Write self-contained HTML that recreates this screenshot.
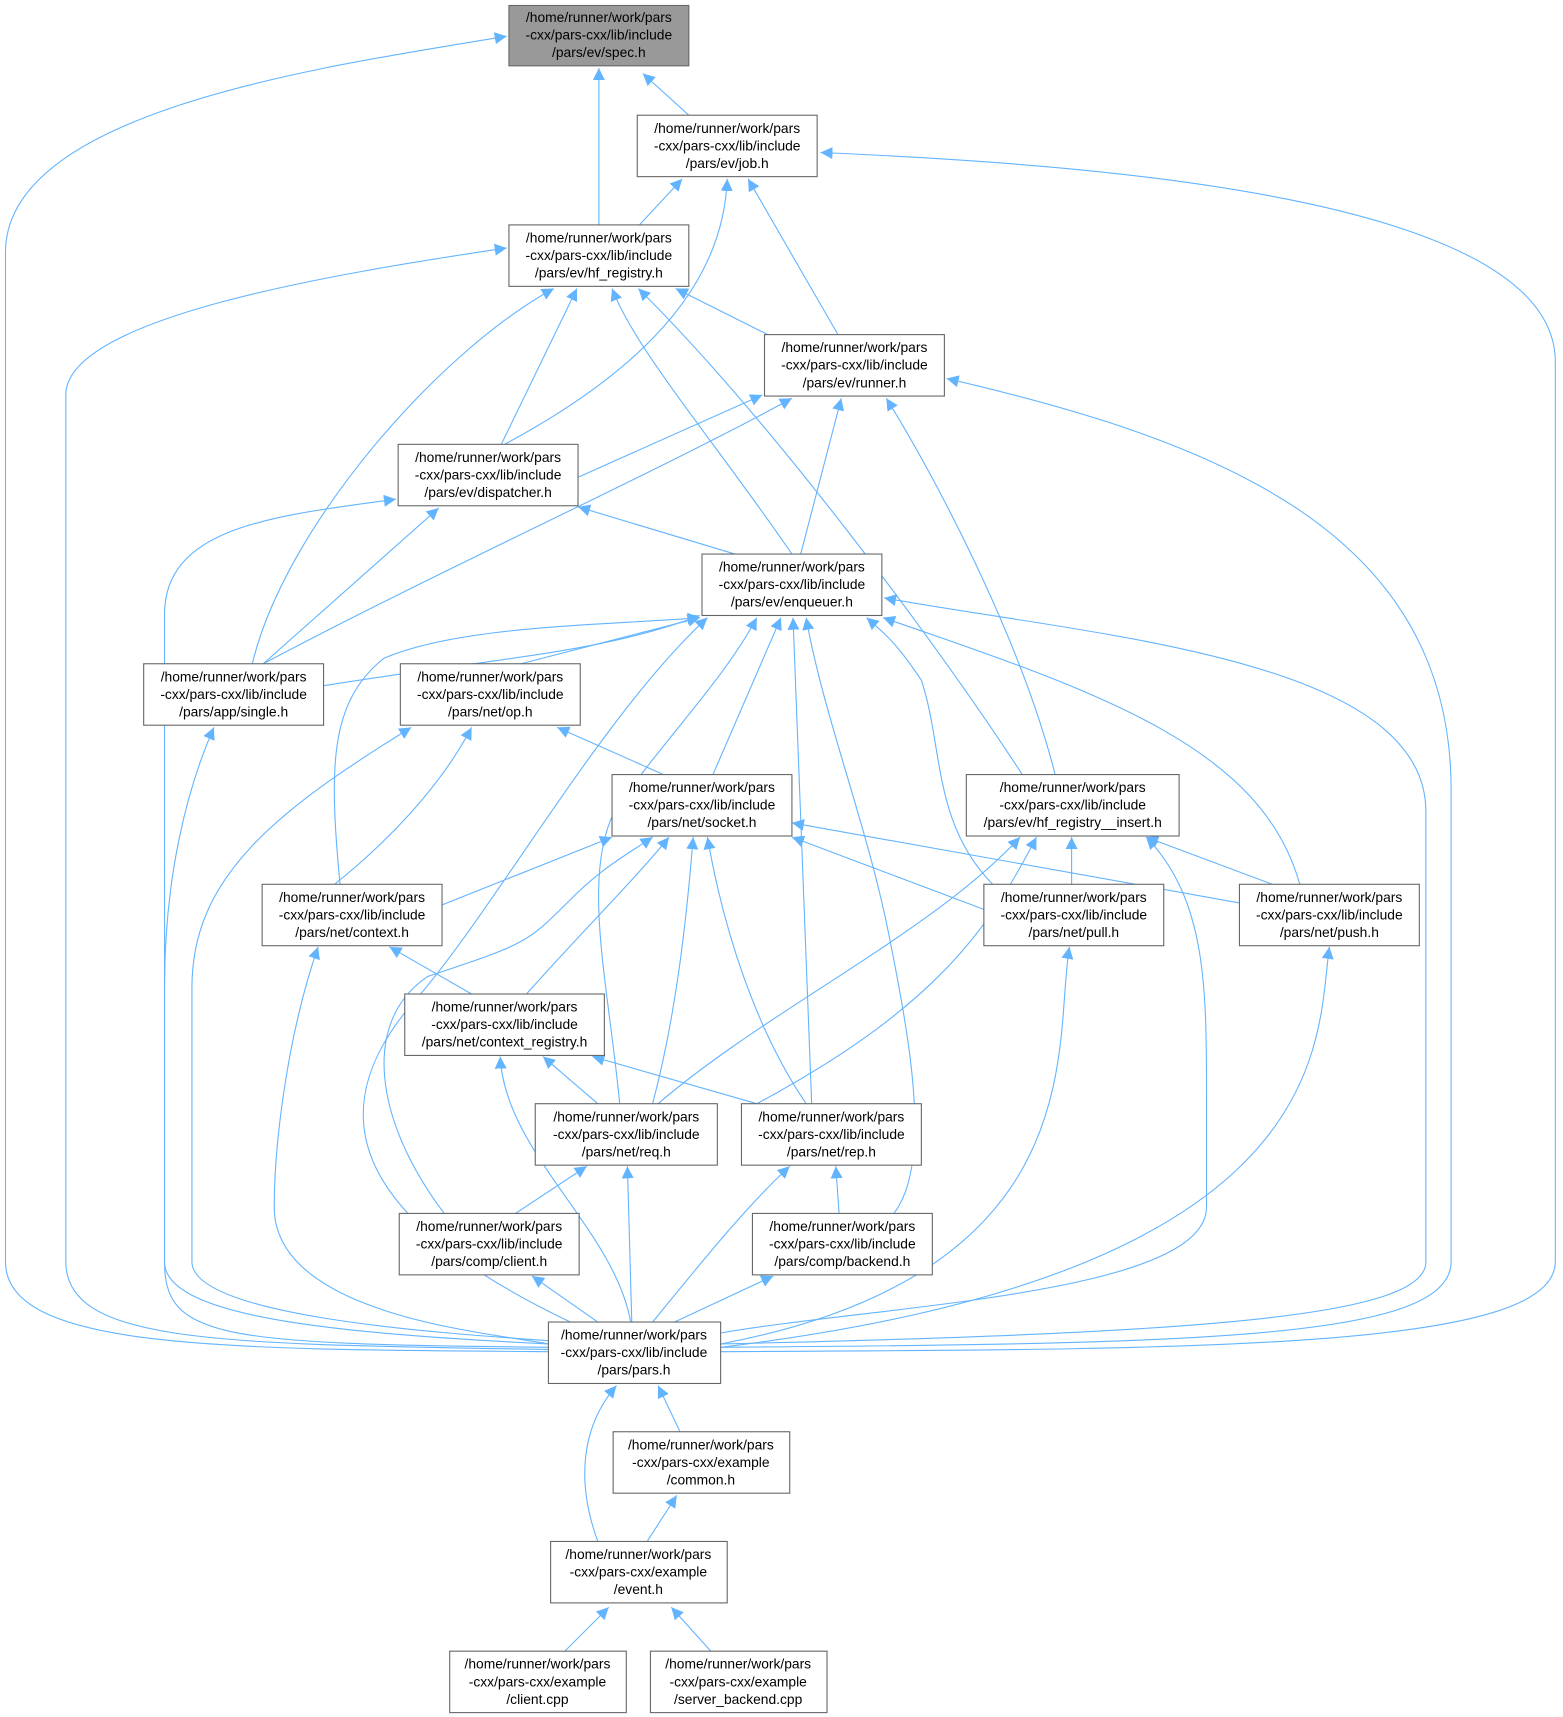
<!DOCTYPE html>
<html><head><meta charset="utf-8"><style>
html,body{margin:0;padding:0;background:#fff;}
svg{display:block;}
text{font-family:"Liberation Sans",sans-serif;font-size:12.6px;fill:#000;text-anchor:middle;}
.e{fill:none;stroke:#63b4ff;stroke-width:1;}
rect{fill:#fff;stroke:#666;stroke-width:1;}
</style></head><body>
<svg width="1563" height="1717" viewBox="0 0 1425 1565" preserveAspectRatio="none" xmlns="http://www.w3.org/2000/svg">
<defs><marker id="a" viewBox="0 0 10 10" refX="10" refY="5" markerWidth="11" markerHeight="11" markerUnits="userSpaceOnUse" orient="auto"><path d="M0,0 L10,5 L0,10 z" fill="#63b4ff"/></marker></defs>
<g class="e" marker-end="url(#a)">
<path d="M500,1232 C200,1230 5,1230 5,1150 L5,230 C5,100 300,60 462,33"/>
<path d="M546,205 L546,62"/>
<path d="M628,105 L586,67"/>
<path d="M657,1232 C1100,1230 1418,1230 1418,1150 L1418,330 C1418,180 1000,150 748,139"/>
<path d="M583,205 L622,163"/>
<path d="M460,405 C600,330 660,250 663,163"/>
<path d="M764,305 L682,163"/>
<path d="M500,1230 C200,1225 60,1225 60,1150 L60,360 C60,290 300,250 462,226"/>
<path d="M700,305 L616,263"/>
<path d="M457,405 L526,263"/>
<path d="M230,605 C260,480 400,320 505,263"/>
<path d="M722,505 C650,400 580,320 558,263"/>
<path d="M932,706 C850,580 700,380 582,263"/>
<path d="M527,435 L695,360"/>
<path d="M240,605 C400,520 600,430 722,363"/>
<path d="M730,505 L767,363"/>
<path d="M962,706 C930,580 850,430 808,363"/>
<path d="M657,1228 C1100,1225 1323,1220 1323,1150 L1323,720 C1323,480 1100,400 863,345"/>
<path d="M500,1228 C200,1225 150,1220 150,1150 L150,560 C150,480 250,470 361,455"/>
<path d="M240,605 L400,463"/>
<path d="M670,505 L527,462"/>
<path d="M295,625 C450,600 550,595 638,561"/>
<path d="M475,605 L638,563"/>
<path d="M310,806 C300,700 300,640 350,600 C420,570 550,570 638,563"/>
<path d="M520,1205 C300,1100 300,1000 380,910 C450,830 550,650 645,563"/>
<path d="M565,1006 C555,900 530,800 560,740 C600,680 660,620 690,563"/>
<path d="M650,706 L712,563"/>
<path d="M740,1006 L723,563"/>
<path d="M815,1106 C850,1060 830,950 810,850 C790,750 750,650 735,563"/>
<path d="M905,806 C850,750 860,680 840,620 C820,590 810,580 790,563"/>
<path d="M1185,806 C1150,680 1000,630 805,563"/>
<path d="M657,1225 C1100,1215 1300,1200 1300,1150 L1300,740 C1300,600 1000,580 806,545"/>
<path d="M500,1222 C400,1215 175,1200 175,1150 L175,900 C175,800 250,740 375,663"/>
<path d="M305,806 C350,770 400,720 430,663"/>
<path d="M605,706 L508,663"/>
<path d="M500,1225 C300,1215 150,1200 150,1150 L150,900 C150,800 170,720 195,663"/>
<path d="M400,826 L558,763"/>
<path d="M480,906 C530,850 580,800 610,763"/>
<path d="M595,1006 C615,930 625,850 632,763"/>
<path d="M735,1006 C690,940 660,850 645,763"/>
<path d="M405,1106 C340,1020 330,930 390,890 C480,860 480,860 520,820 C550,790 570,780 595,763"/>
<path d="M900,830 L722,763"/>
<path d="M1130,823 L722,750"/>
<path d="M600,1006 C700,920 850,850 930,763"/>
<path d="M690,1006 C850,920 900,850 945,763"/>
<path d="M977,806 L977,763"/>
<path d="M1160,806 L1045,763"/>
<path d="M657,1215 C800,1190 1100,1180 1100,1100 L1100,1000 C1100,900 1100,820 1045,763"/>
<path d="M500,1225 C450,1215 250,1200 250,1100 C250,1050 260,950 290,863"/>
<path d="M430,906 L355,863"/>
<path d="M545,1006 L495,963"/>
<path d="M690,1006 L540,963"/>
<path d="M575,1205 C560,1120 460,1050 456,963"/>
<path d="M470,1106 L535,1063"/>
<path d="M576,1205 L572,1063"/>
<path d="M595,1205 C640,1150 680,1100 720,1063"/>
<path d="M765,1106 L762,1063"/>
<path d="M657,1225 C1000,1160 960,950 975,863"/>
<path d="M657,1228 C1220,1160 1200,950 1212,863"/>
<path d="M545,1205 L485,1163"/>
<path d="M615,1205 L705,1163"/>
<path d="M620,1305 L600,1263"/>
<path d="M545,1405 C525,1350 530,1300 562,1263"/>
<path d="M590,1405 L617,1363"/>
<path d="M515,1505 L555,1465"/>
<path d="M648,1505 L612,1465"/>
</g>
<g>
<rect x="464" y="5" width="164" height="55" style="fill:#999"/>
<text x="546" y="20">/home/runner/work/pars</text><text x="546" y="36">-cxx/pars-cxx/lib/include</text><text x="546" y="52">/pars/ev/spec.h</text>
<rect x="581" y="105" width="164" height="56"/>
<text x="663" y="121">/home/runner/work/pars</text><text x="663" y="137">-cxx/pars-cxx/lib/include</text><text x="663" y="153">/pars/ev/job.h</text>
<rect x="464" y="205" width="164" height="56"/>
<text x="546" y="221">/home/runner/work/pars</text><text x="546" y="237">-cxx/pars-cxx/lib/include</text><text x="546" y="253">/pars/ev/hf_registry.h</text>
<rect x="697" y="305" width="164" height="56"/>
<text x="779" y="321">/home/runner/work/pars</text><text x="779" y="337">-cxx/pars-cxx/lib/include</text><text x="779" y="353">/pars/ev/runner.h</text>
<rect x="363" y="405" width="164" height="56"/>
<text x="445" y="421">/home/runner/work/pars</text><text x="445" y="437">-cxx/pars-cxx/lib/include</text><text x="445" y="453">/pars/ev/dispatcher.h</text>
<rect x="640" y="505" width="164" height="56"/>
<text x="722" y="521">/home/runner/work/pars</text><text x="722" y="537">-cxx/pars-cxx/lib/include</text><text x="722" y="553">/pars/ev/enqueuer.h</text>
<rect x="131" y="605" width="164" height="56"/>
<text x="213" y="621">/home/runner/work/pars</text><text x="213" y="637">-cxx/pars-cxx/lib/include</text><text x="213" y="653">/pars/app/single.h</text>
<rect x="365" y="605" width="164" height="56"/>
<text x="447" y="621">/home/runner/work/pars</text><text x="447" y="637">-cxx/pars-cxx/lib/include</text><text x="447" y="653">/pars/net/op.h</text>
<rect x="558" y="706" width="164" height="56"/>
<text x="640" y="722">/home/runner/work/pars</text><text x="640" y="738">-cxx/pars-cxx/lib/include</text><text x="640" y="754">/pars/net/socket.h</text>
<rect x="881" y="706" width="194" height="56"/>
<text x="978" y="722">/home/runner/work/pars</text><text x="978" y="738">-cxx/pars-cxx/lib/include</text><text x="978" y="754">/pars/ev/hf_registry__insert.h</text>
<rect x="239" y="806" width="164" height="56"/>
<text x="321" y="822">/home/runner/work/pars</text><text x="321" y="838">-cxx/pars-cxx/lib/include</text><text x="321" y="854">/pars/net/context.h</text>
<rect x="897" y="806" width="164" height="56"/>
<text x="979" y="822">/home/runner/work/pars</text><text x="979" y="838">-cxx/pars-cxx/lib/include</text><text x="979" y="854">/pars/net/pull.h</text>
<rect x="1130" y="806" width="164" height="56"/>
<text x="1212" y="822">/home/runner/work/pars</text><text x="1212" y="838">-cxx/pars-cxx/lib/include</text><text x="1212" y="854">/pars/net/push.h</text>
<rect x="369" y="906" width="182" height="56"/>
<text x="460" y="922">/home/runner/work/pars</text><text x="460" y="938">-cxx/pars-cxx/lib/include</text><text x="460" y="954">/pars/net/context_registry.h</text>
<rect x="488" y="1006" width="166" height="56"/>
<text x="571" y="1022">/home/runner/work/pars</text><text x="571" y="1038">-cxx/pars-cxx/lib/include</text><text x="571" y="1054">/pars/net/req.h</text>
<rect x="676" y="1006" width="164" height="56"/>
<text x="758" y="1022">/home/runner/work/pars</text><text x="758" y="1038">-cxx/pars-cxx/lib/include</text><text x="758" y="1054">/pars/net/rep.h</text>
<rect x="364" y="1106" width="164" height="56"/>
<text x="446" y="1122">/home/runner/work/pars</text><text x="446" y="1138">-cxx/pars-cxx/lib/include</text><text x="446" y="1154">/pars/comp/client.h</text>
<rect x="686" y="1106" width="164" height="56"/>
<text x="768" y="1122">/home/runner/work/pars</text><text x="768" y="1138">-cxx/pars-cxx/lib/include</text><text x="768" y="1154">/pars/comp/backend.h</text>
<rect x="500" y="1205" width="157" height="56"/>
<text x="578" y="1221">/home/runner/work/pars</text><text x="578" y="1237">-cxx/pars-cxx/lib/include</text><text x="578" y="1253">/pars/pars.h</text>
<rect x="559" y="1305" width="161" height="56"/>
<text x="639" y="1321">/home/runner/work/pars</text><text x="639" y="1337">-cxx/pars-cxx/example</text><text x="639" y="1353">/common.h</text>
<rect x="502" y="1405" width="161" height="56"/>
<text x="582" y="1421">/home/runner/work/pars</text><text x="582" y="1437">-cxx/pars-cxx/example</text><text x="582" y="1453">/event.h</text>
<rect x="410" y="1505" width="161" height="56"/>
<text x="490" y="1521">/home/runner/work/pars</text><text x="490" y="1537">-cxx/pars-cxx/example</text><text x="490" y="1553">/client.cpp</text>
<rect x="593" y="1505" width="161" height="56"/>
<text x="673" y="1521">/home/runner/work/pars</text><text x="673" y="1537">-cxx/pars-cxx/example</text><text x="673" y="1553">/server_backend.cpp</text>
</g>
</svg>
</body></html>
